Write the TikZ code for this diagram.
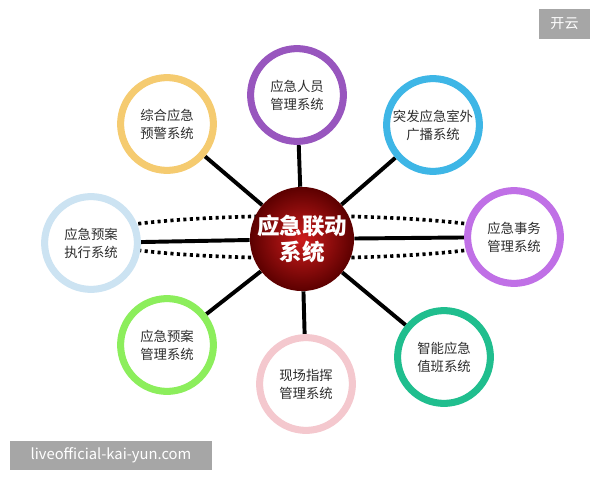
\documentclass[tikz,border=0pt]{standalone}
\usepackage{fontspec}
\setmainfont{Noto Sans CJK SC}
\usetikzlibrary{backgrounds}
\definecolor{ringyellow}{RGB}{245,203,112}
\definecolor{ringpurple}{RGB}{152,86,190}
\definecolor{ringcyan}{RGB}{62,182,230}
\definecolor{ringpale}{RGB}{204,227,242}
\definecolor{ringviolet}{RGB}{192,112,230}
\definecolor{ringgreen}{RGB}{140,238,92}
\definecolor{ringpink}{RGB}{244,200,206}
\definecolor{ringteal}{RGB}{32,190,142}
\definecolor{hubred}{RGB}{205,28,28}
\definecolor{hubdark}{RGB}{92,0,0}
\definecolor{textgray}{RGB}{45,45,45}
\definecolor{markgray}{RGB}{166,166,166}
\tikzset{
  sysring/.style={circle, draw=#1, line width=5pt, fill=white, minimum size=66pt,
    inner sep=0pt, align=center, text=textgray, font=\fontsize{9.5}{12.8}\selectfont},
  hubball/.style={circle, minimum size=74pt, inner sep=0pt, align=center,
    shading=radial, inner color=hubred, outer color=hubdark, text=white,
    font=\fontsize{16}{19}\selectfont\bfseries},
  spoke/.style={line width=2.8pt, black},
  orbitline/.style={line width=2.6pt, dash pattern=on 2.2pt off 2.4pt, black},
  markbox/.style={fill=markgray, text=white, inner sep=0pt}
}

\begin{document}
\begin{tikzpicture}[x=0.025cm, y=-0.025cm]
			%%%%% START %%%%%
			\useasboundingbox (0,0) rectangle (600,480);
			
			\node[hubball] (hub) at (302,239) {应急联动\\系统};
			
			\node[sysring=ringyellow] (warn) at (167,124) {综合应急\\预警系统};
			\node[sysring=ringpurple] (staff) at (297,95) {应急人员\\管理系统};
			\node[sysring=ringcyan] (radio) at (433,125) {突发应急室外\\广播系统};
			\node[sysring=ringpale] (exec) at (91,243) {应急预案\\执行系统};
			\node[sysring=ringviolet] (affair) at (514,237) {应急事务\\管理系统};
			\node[sysring=ringgreen] (plan) at (167,345) {应急预案\\管理系统};
			\node[sysring=ringpink] (field) at (306,384) {现场指挥\\管理系统};
			\node[sysring=ringteal] (duty) at (444,357) {智能应急\\值班系统};
			
			\coordinate (orbit) at (302,237);
			
			\begin{scope}[on background layer]
			\draw[orbitline] (orbit) ellipse [x radius=150pt, y radius=15pt];
			\foreach \n in {warn,staff,radio,exec,affair,plan,field,duty}
			  \draw[spoke] (hub) -- (\n);
			\end{scope}
			
			\node[markbox, minimum width=143.7pt, minimum height=20.6pt,
			  font=\fontsize{10.5}{12}\selectfont] (site) at (111,455.5) {liveofficial-kai-yun.com};
			\node[markbox, minimum width=36.3pt, minimum height=21.3pt,
			  font=\fontsize{10}{12}\selectfont] (brand) at (564.5,24) {开云};
			%%%%% END %%%%%
\end{tikzpicture}
\end{document}
